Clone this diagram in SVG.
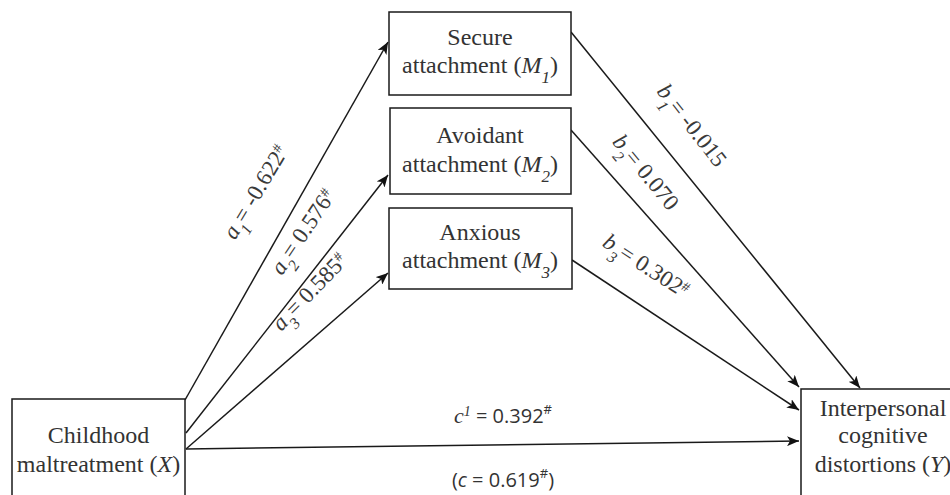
<svg xmlns="http://www.w3.org/2000/svg" width="950" height="495" viewBox="0 0 950 495">
<style>
.box{fill:#fff;stroke:#1a1a1a;stroke-width:1.5}
.t{font-family:"Liberation Serif","Times New Roman",serif;font-size:24px;fill:#333;text-anchor:middle}
.l{font-family:"Liberation Serif","Times New Roman",serif;font-size:23px;fill:#3a3a3a;text-anchor:middle}
.s{font-family:"Open Sans","Liberation Sans",Arial,sans-serif;font-size:20px;fill:#333;text-anchor:middle}
.i{font-style:italic}
.e{stroke:#1a1a1a;stroke-width:1.5;fill:none;marker-end:url(#ah)}
</style>
<defs>
<marker id="ah" viewBox="0 0 12 10" refX="12" refY="5" markerWidth="12" markerHeight="10" markerUnits="userSpaceOnUse" orient="auto">
<path d="M0,0 L12,5 L0,10 L3,5 Z" fill="#111"/>
</marker>
</defs>
<rect width="950" height="495" fill="#fff"/>
<g id="connectors">
<line class="e" x1="185" y1="400" x2="388" y2="42"/>
<line class="e" x1="186" y1="433" x2="388" y2="175"/>
<line class="e" x1="186" y1="449" x2="388" y2="273"/>
<line class="e" x1="571" y1="32" x2="860" y2="388"/>
<line class="e" x1="571" y1="130" x2="799" y2="387"/>
<line class="e" x1="572" y1="260" x2="799" y2="410"/>
<line class="e" x1="186" y1="449" x2="799" y2="441"/>
<text class="l" transform="translate(262,196) rotate(-59)"><tspan class="i">a</tspan><tspan class="i" font-size="16" baseline-shift="sub">1</tspan>= -0.622<tspan font-size="14" baseline-shift="super">#</tspan></text>
<text class="l" transform="translate(309,236) rotate(-56)"><tspan class="i">a</tspan><tspan class="i" font-size="16" baseline-shift="sub">2</tspan>= 0.576<tspan font-size="14" baseline-shift="super">#</tspan></text>
<text class="l" transform="translate(315,297) rotate(-46)"><tspan class="i">a</tspan><tspan class="i" font-size="16" baseline-shift="sub">3</tspan>= 0.585<tspan font-size="14" baseline-shift="super">#</tspan></text>
<text class="l" transform="translate(686,130) rotate(52)"><tspan class="i">b</tspan><tspan class="i" font-size="16" baseline-shift="sub">1</tspan>= -0.015</text>
<text class="l" transform="translate(640,177) rotate(50.6)"><tspan class="i">b</tspan><tspan class="i" font-size="16" baseline-shift="sub">2</tspan>= 0.070</text>
<text class="l" transform="translate(642,272) rotate(33)"><tspan class="i">b</tspan><tspan class="i" font-size="16" baseline-shift="sub">3</tspan>= 0.302<tspan font-size="14" baseline-shift="super">#</tspan></text>
<text class="s" x="503" y="423"><tspan class="i" font-family="Liberation Serif,serif" font-size="22">c</tspan><tspan class="i" font-family="Liberation Serif,serif" font-size="14" baseline-shift="super">1</tspan> = 0.392<tspan font-size="13" baseline-shift="super">#</tspan></text>
<text class="s" x="503" y="487">(<tspan class="i">c</tspan> = 0.619<tspan font-size="13" baseline-shift="super">#</tspan>)</text>
</g>
<g id="node-x">
<rect class="box" x="12" y="399" width="173" height="110"/>
<text class="t" x="98.5" y="443">Childhood</text>
<text class="t" x="98.5" y="472">maltreatment (<tspan class="i">X</tspan>)</text>
</g>
<g id="node-m1">
<rect class="box" x="389" y="12" width="182" height="83"/>
<text class="t" x="480" y="45">Secure</text>
<text class="t" x="480" y="73">attachment (<tspan class="i">M</tspan><tspan class="i" font-size="17" baseline-shift="sub">1</tspan>)</text>
</g>
<g id="node-m2">
<rect class="box" x="390" y="108" width="181" height="86"/>
<text class="t" x="480" y="143">Avoidant</text>
<text class="t" x="480" y="172">attachment (<tspan class="i">M</tspan><tspan class="i" font-size="17" baseline-shift="sub">2</tspan>)</text>
</g>
<g id="node-m3">
<rect class="box" x="389" y="208" width="183" height="81"/>
<text class="t" x="480" y="240">Anxious</text>
<text class="t" x="480" y="268">attachment (<tspan class="i">M</tspan><tspan class="i" font-size="17" baseline-shift="sub">3</tspan>)</text>
</g>
<g id="node-y">
<rect class="box" x="801" y="389" width="170" height="120"/>
<text class="t" x="883" y="416">Interpersonal</text>
<text class="t" x="883" y="443">cognitive</text>
<text class="t" x="883" y="472">distortions (<tspan class="i">Y</tspan>)</text>
</g>
</svg>
